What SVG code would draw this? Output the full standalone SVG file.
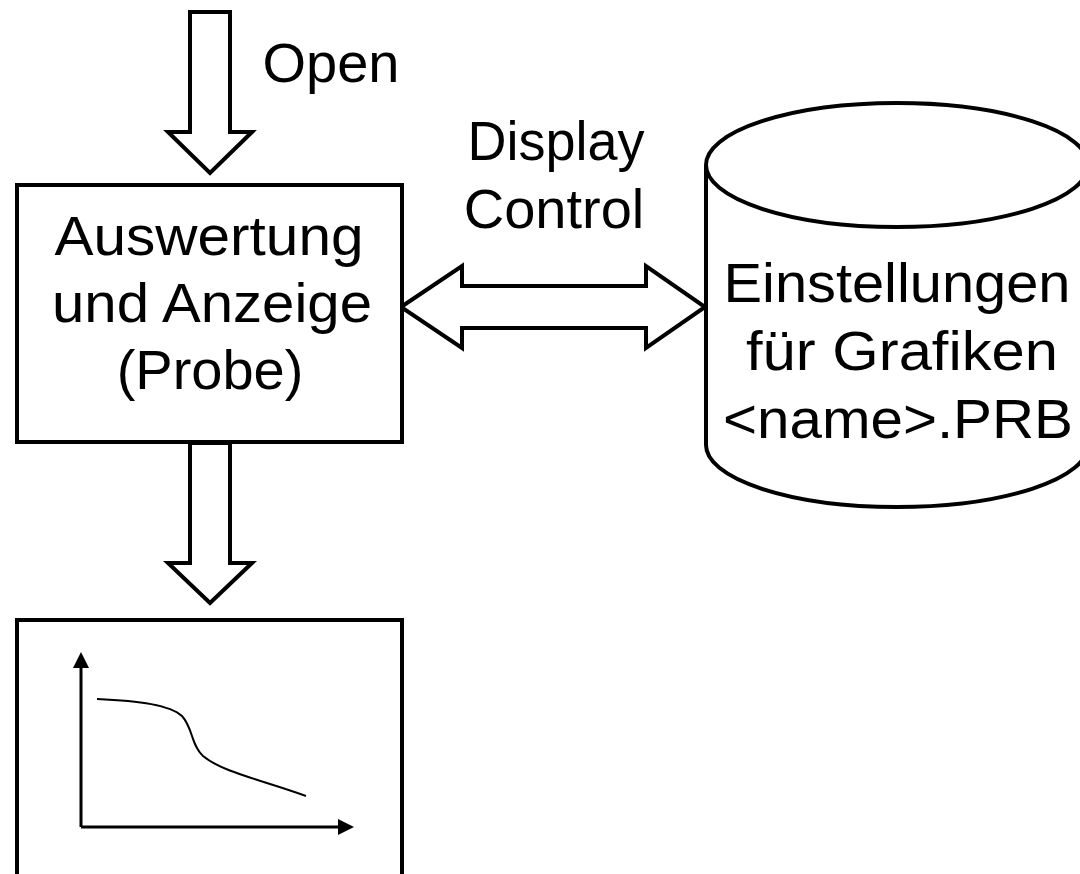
<svg xmlns="http://www.w3.org/2000/svg" width="1080" height="874" viewBox="0 0 1080 874">
<style>
.s{fill:#fff;stroke:#000;stroke-width:4;stroke-linejoin:miter}
.t{font-family:"Liberation Sans",Arial,sans-serif;font-size:56px;fill:#000;text-anchor:middle}
.ln{fill:none;stroke:#000;stroke-width:3}
</style>
<defs>
<marker id="ah" viewBox="0 0 10 10" refX="0" refY="5" markerWidth="16" markerHeight="16" markerUnits="userSpaceOnUse" orient="auto">
<path d="M0,0 L10,5 L0,10 Z" fill="#000"/>
</marker>
</defs>
<rect width="1080" height="874" fill="#fff"/>
<g id="connectors">
<path class="s" d="M190,12 H230 V132 H252 L210,173 L168,132 H190 Z"/>
<path class="s" d="M190,443 H230 V563 H252 L210,603 L168,563 H190 Z"/>
<path class="s" d="M401,307 L462,266 V286 H646 V266 L705,307 L646,348 V328 H462 V348 Z"/>
</g>
<g id="label-open"><text class="t" x="331" y="82">Open</text></g>
<g id="label-display"><text class="t" x="556" y="160" textLength="177" lengthAdjust="spacingAndGlyphs">Display</text><text class="t" x="554" y="228">Control</text></g>
<g id="node-auswertung">
<rect class="s" x="17" y="185" width="385" height="257"/>
<text class="t" x="209" y="255" textLength="309" lengthAdjust="spacingAndGlyphs">Auswertung</text>
<text class="t" x="212" y="322" textLength="320" lengthAdjust="spacingAndGlyphs">und Anzeige</text>
<text class="t" x="210" y="389">(Probe)</text>
</g>
<g id="node-einstellungen">
<path class="s" d="M706,165 V445 A191,62 0 0 0 1088,445 V165"/>
<ellipse class="s" cx="897" cy="165" rx="191" ry="62"/>
<text class="t" x="897" y="302" textLength="347" lengthAdjust="spacingAndGlyphs">Einstellungen</text>
<text class="t" x="902" y="370" textLength="312" lengthAdjust="spacingAndGlyphs">für Grafiken</text>
<text class="t" x="898" y="438" textLength="350" lengthAdjust="spacingAndGlyphs">&lt;name&gt;.PRB</text>
</g>
<g id="node-graph">
<rect class="s" x="17" y="620" width="385" height="270"/>
<line class="ln" x1="81" y1="827" x2="81" y2="668" marker-end="url(#ah)"/>
<line class="ln" x1="81" y1="827" x2="338" y2="827" marker-end="url(#ah)"/>
<path fill="none" stroke="#000" stroke-width="2" d="M97,699 C140,701 170,705 182,716 C193,728 191,745 203,756 C222,772 262,780 306,796"/>
</g>
</svg>
